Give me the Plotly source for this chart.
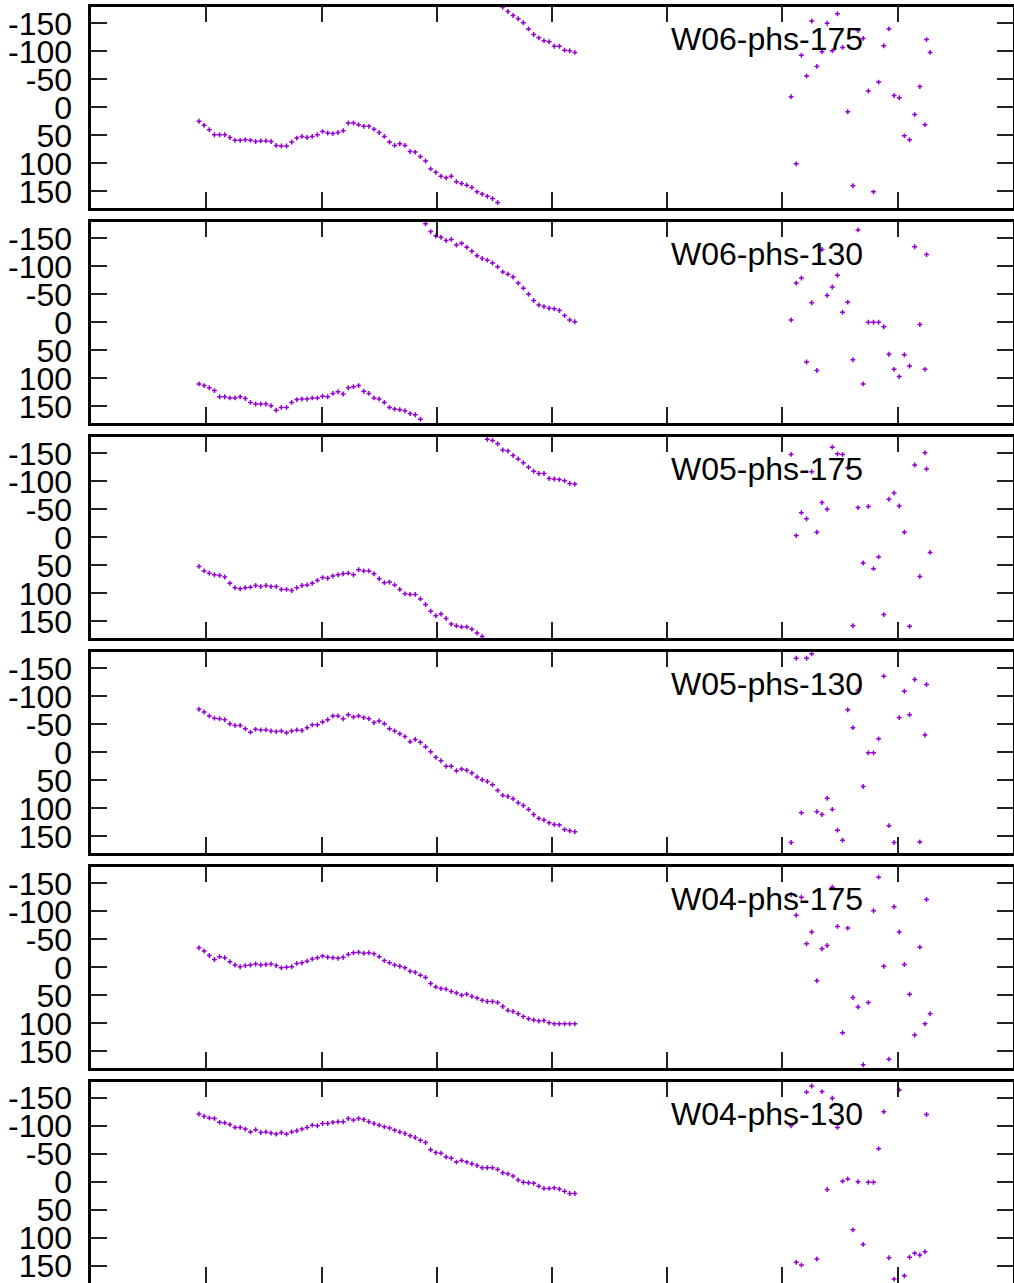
import plotly.graph_objects as go

# six stacked phase panels (gnuplot style)
W, H = 1014, 1283
PURPLE = "#9400d3"

panel_names = ["W06-phs-175", "W06-phs-130", "W05-phs-175",
               "W05-phs-130", "W04-phs-175", "W04-phs-130"]

# sample grid (axis runs 0..8, ticks at 1..7)
T0 = 0.9358
DT = 0.04470

# smooth part, samples 0..73
curve_w06_175 = [25, 32, 40, 49, 49, 49, 54, 59, 59, 58, 59, 61, 60, 60, 61, 68, 69, 69, 62, 55, 52, 54, 52, 49, 43, 46, 47, 45,
                 42, 28, 28, 31, 34, 34, 39, 45, 52, 62, 68, 65, 68, 79, 80, 88, 96, 110, 116, 123, 126, 123, 133, 136, 139, 143, 151, 155, 159, 163, 170,
                 -179, -171, -164, -158, -151, -140, -130, -124, -119, -117, -109, -109, -102, -101, -98]
curve_w06_130 = [110, 113, 117, 122, 133, 133, 135, 135, 133, 136, 143, 146, 146, 146, 149, 157, 152, 152, 143, 138, 137, 137, 135, 135, 132, 133, 127, 124,
                 128, 117, 115, 113, 123, 127, 135, 137, 143, 152, 155, 156, 158, 163, 165, 173,
                 -176, -162, -154, -152, -146, -148, -138, -141, -134, -127, -119, -114, -111, -106, -99, -90, -86, -81, -70, -61, -50, -39, -31, -28, -25, -24, -21, -12, -4, -1]
curve_w05_175 = [52, 60, 64, 67, 68, 71, 82, 90, 92, 90, 89, 86, 88, 86, 88, 88, 93, 93, 95, 90, 86, 85, 82, 77, 72, 73, 69, 67,
                 65, 64, 67, 58, 60, 60, 65, 74, 81, 80, 85, 93, 101, 102, 102, 110, 120, 132, 140, 137, 145, 155, 158, 160, 160, 164, 171, 177,
                 -175, -173, -167, -156, -154, -146, -140, -133, -125, -118, -114, -114, -105, -104, -103, -101, -96, -95]
curve_w05_130 = [-77, -72, -65, -61, -60, -58, -51, -48, -48, -42, -36, -41, -40, -40, -38, -37, -38, -35, -38, -40, -39, -44, -49, -49, -54, -58, -65, -65,
                 -60, -67, -63, -65, -62, -60, -53, -56, -51, -42, -38, -33, -28, -19, -23, -18, -10, -1, 9, 15, 25, 25, 33, 30, 32, 37, 44, 49,
                 52, 58, 68, 77, 79, 83, 90, 95, 102, 111, 118, 121, 126, 129, 130, 138, 140, 142]
curve_w04_175 = [-35, -29, -21, -14, -19, -17, -10, -4, -1, -3, -4, -6, -4, -5, -6, -3, 1, 0, -1, -7, -8, -11, -15, -17, -20, -18, -17, -16,
                 -18, -23, -26, -27, -25, -26, -24, -19, -12, -8, -4, -2, 1, 7, 9, 14, 18, 29, 35, 38, 39, 43, 46, 50, 48, 52, 55, 59,
                 61, 61, 63, 70, 77, 79, 83, 88, 92, 94, 96, 95, 99, 101, 101, 101, 101, 101]
curve_w04_130 = [-122, -118, -115, -114, -107, -106, -103, -98, -98, -95, -90, -94, -89, -90, -88, -86, -89, -86, -90, -92, -95, -98, -102, -101, -105, -105, -107, -108,
                 -108, -114, -111, -114, -112, -108, -105, -102, -99, -97, -93, -90, -87, -83, -80, -75, -71, -58, -53, -52, -45, -43, -36, -39, -36, -33, -30, -26,
                 -26, -26, -23, -17, -15, -11, -4, 0, 1, 2, 7, 11, 11, 10, 12, 16, 20, 20]

# noisy part, sample numbers
scatter_idx = list(range(115, 142)) + [141.3, 142]
scat_w06_175 = [-19, 101, -93, -56, -154, -73, -99, -150, -101, -167, -107, 8, 140, -137, -123, -29, 151, -45, -110, -140, -21, -17, 51, 58, 13, -37, 31, -121, -98]
scat_w06_130 = [-4, -70, -79, 71, -35, 86, -130, -48, -63, -84, -18, -36, 67, -165, 110, 0, 0, 0, 8, 57, 84, 97, 58, 78, -135, 4, 84, -121]
scat_w05_175 = [-148, -3, -44, -33, -117, -9, -62, -50, -161, -149, -148, -124, 158, -53, 46, -55, 56, 35, 138, -68, -79, -56, -9, 159, -129, 70, -151, -122, 27]
scat_w05_130 = [161, -168, 108, -168, -176, 106, 111, 82, 102, 139, 157, -76, -44, -111, 61, 1, 1, -24, -136, 131, 161, -62, -109, -67, -130, 160, -31, -121]
scat_w04_175 = [-130, -93, -125, -42, -63, 24, -33, -39, -143, -73, 117, -70, 54, 71, 174, 63, -101, -161, -2, 164, -108, -63, -5, 48, 121, -36, 101, -121, 83]
scat_w04_130 = [-101, 143, 148, -161, -172, 137, -162, 13, -150, -98, -2, -6, 85, -1, 111, 0, 0, -60, -126, 135, 173, -165, 167, 134, 127, 130, 124, -121]

curves = [curve_w06_175, curve_w06_130, curve_w05_175, curve_w05_130, curve_w04_175, curve_w04_130]
scats = [scat_w06_175, scat_w06_130, scat_w05_175, scat_w05_130, scat_w04_175, scat_w04_130]

ytick_vals = [-150, -100, -50, 0, 50, 100, 150]
ytick_text = ["-150", "-100", "-50", "0", "50", "100", "150"]
xtick_vals = [1, 2, 3, 4, 5, 6, 7]

FONT = "Liberation Sans, Arial, sans-serif"
fig = go.Figure()
layout = dict(width=W, height=H, margin=dict(l=0, r=0, t=0, b=0),
              paper_bgcolor="white", plot_bgcolor="white", showlegend=False,
              annotations=[])

for k in range(6):
    ax = "" if k == 0 else str(k + 1)
    idx = list(range(len(curves[k]))) + scatter_idx[:len(scats[k])]
    yv = curves[k] + scats[k]
    xv = [T0 + i * DT for i in idx]
    fig.add_trace(go.Scatter(
        x=xv, y=yv, mode="markers", xaxis="x" + ax, yaxis="y" + ax,
        marker=dict(symbol="cross-thin", size=3.5, line=dict(width=1.5, color=PURPLE)),
        hoverinfo="skip"))

    top = 6.5 + 215 * k
    bot = 208.1 + 215 * k
    layout["xaxis" + ax] = dict(
        domain=[91.2 / W, 1012.7 / W], range=[0, 8], anchor="y" + ax,
        tickvals=xtick_vals, showticklabels=False, ticks="inside", ticklen=16,
        tickwidth=1.5, tickcolor="#222", showline=True, linewidth=2.5,
        linecolor="black", mirror="ticks", showgrid=False, zeroline=False,
        automargin=False)
    layout["yaxis" + ax] = dict(
        domain=[max(0, 1 - bot / H), 1 - top / H], range=[180, -180], anchor="x" + ax,
        tickvals=ytick_vals, ticktext=ytick_text, ticks="inside", ticklen=16,
        tickwidth=1.5, tickcolor="#222", showline=True, linewidth=2.5,
        linecolor="black", mirror="ticks", showgrid=False, zeroline=False,
        tickfont=dict(family=FONT, size=32, color="black"),
        ticklabelstandoff=10, ticklabeloverflow="allow", automargin=False)
    layout["annotations"].append(dict(
        text=panel_names[k], xref="paper", yref="paper",
        x=669 / W, y=1 - (39 + 215 * k) / H, xanchor="left", yanchor="middle",
        showarrow=False, font=dict(family=FONT, size=32, color="black")))

fig.update_layout(**layout)
# drop the default page margin so the figure sits at the window's corner
fig.write_html("out.html", config={"displayModeBar": False},
               post_script="document.body.style.margin='0';")
